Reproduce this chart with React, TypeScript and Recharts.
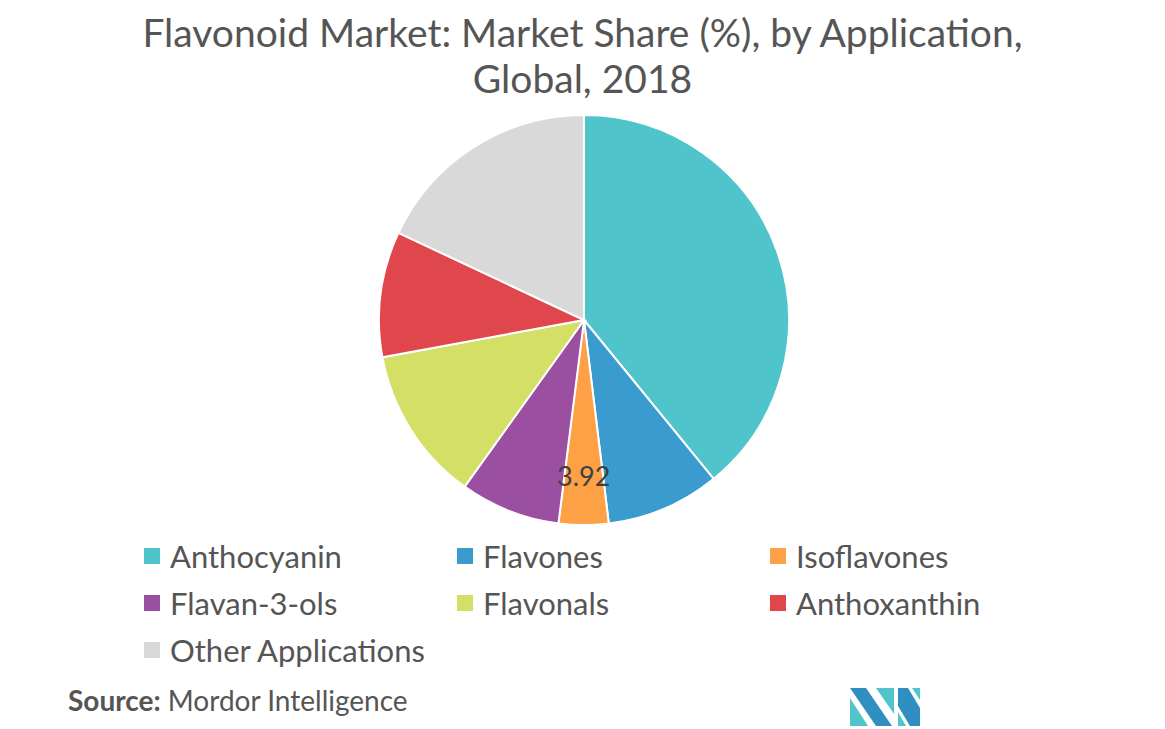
import React from 'react';
import { PieChart, Pie, Cell, Legend } from 'recharts';

const categories = ['Anthocyanin', 'Flavones', 'Isoflavones', 'Flavan-3-ols', 'Flavonals', 'Anthoxanthin', 'Other Applications'];
const shares = [39.1, 8.97, 3.92, 7.9, 12.2, 9.9, 18.01];
const colors = ['#4FC4CA', '#3A9BCE', '#FDA046', '#9A4FA0', '#D3E065', '#E0474C', '#D9D9D9'];
const labelled = ['Isoflavones'];

const data = categories.map((name, i) => ({ name, value: shares[i] }));

const RADIAN = Math.PI / 180;
const FONT = 'Lato, "Open Sans", sans-serif';

const renderLabel = (props: any) => {
  const { cx, cy, midAngle, outerRadius, name, value } = props;
  if (!labelled.includes(name)) return null;
  const r = outerRadius * 0.76;
  const x = cx + r * Math.cos(-midAngle * RADIAN);
  const y = cy + r * Math.sin(-midAngle * RADIAN);
  return (
    <text x={x} y={y} fill="#404040" fontSize={27} fontFamily={FONT} textAnchor="middle" dominantBaseline="central">
      {value.toFixed(2)}
    </text>
  );
};

// legend drawn from our own arrays so the order matches the source
const renderLegend = () => {
  const colX = [0, 313, 626];
  return (
    <div style={{ position: 'relative', width: 900, height: 150, fontFamily: FONT }}>
      {categories.map((name, i) => (
        <div
          key={name}
          style={{
            position: 'absolute',
            left: colX[i % 3],
            top: Math.floor(i / 3) * 47,
            height: 36,
            display: 'flex',
            alignItems: 'center',
            fontSize: 31,
            lineHeight: '36px',
            color: '#555',
            whiteSpace: 'nowrap',
          }}
        >
          <span style={{ display: 'inline-block', width: 16, height: 16, background: colors[i], marginRight: 10 }} />
          {name}
        </div>
      ))}
    </div>
  );
};

const App = () => {
  return (
    <div style={{ position: 'relative', width: 1165, height: 729, background: '#fff', fontFamily: FONT }}>
      <style>{`body{margin:0}`}</style>
      <div style={{ position: 'absolute', left: 0, top: 9, width: 1165, textAlign: 'center', fontSize: 39, color: '#555', lineHeight: '46px' }}>
        Flavonoid Market: Market Share (%), by Application,
        <br />
        Global, 2018
      </div>
      <PieChart width={1165} height={729} margin={{ top: 0, right: 0, bottom: 0, left: 0 }}>
        <Pie
          data={data}
          dataKey="value"
          nameKey="name"
          cx={584}
          cy={320}
          outerRadius={205}
          startAngle={90}
          endAngle={-270}
          stroke="#fff"
          strokeWidth={2}
          label={renderLabel}
          labelLine={false}
          isAnimationActive={false}
        >
          {data.map((d, i) => (
            <Cell key={d.name} fill={colors[i]} />
          ))}
        </Pie>
        <Legend
          content={renderLegend}
          wrapperStyle={{ left: 144, top: 538, width: 900 }}
        />
      </PieChart>
      <div style={{ position: 'absolute', left: 68, top: 683, fontSize: 28, color: '#555' }}>
        <b>Source:</b> Mordor Intelligence
      </div>
      <svg style={{ position: 'absolute', left: 846, top: 686 }} width={80} height={44}>
        <polygon points="4,2 20,2 46,40 30,40" fill="#2E8FC0" />
        <polygon points="4,12 22,40 4,40" fill="#4FC4CA" />
        <polygon points="30,2 48,2 48,28" fill="#4FC4CA" />
        <polygon points="52,2 62,2 74,22 74,40 64,40 52,20" fill="#2E8FC0" />
        <polygon points="66,2 74,2 74,14" fill="#4FC4CA" />
        <polygon points="52,26 60,40 52,40" fill="#4FC4CA" />
      </svg>
    </div>
  );
};

export default App;
